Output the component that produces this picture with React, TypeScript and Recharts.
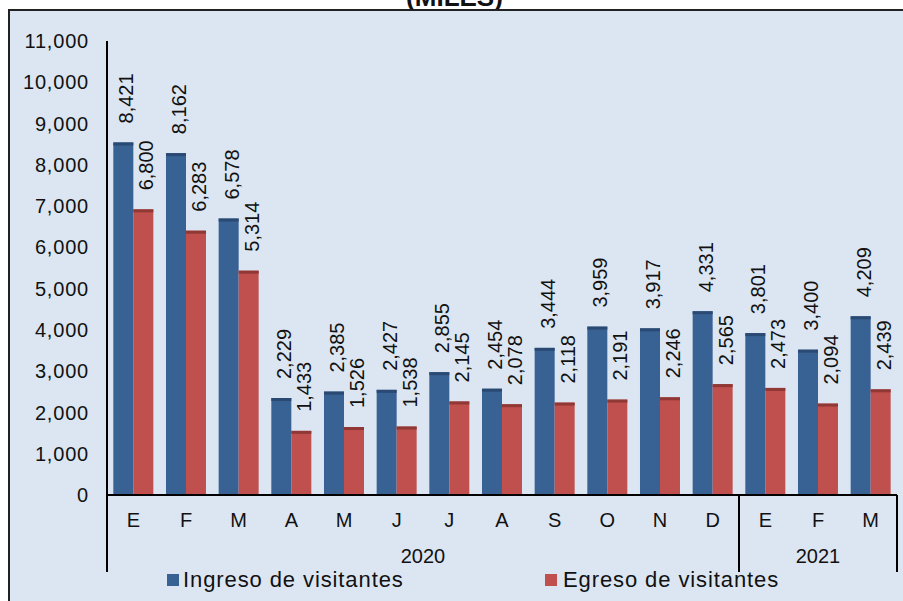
import { Bar, BarChart, LabelList, XAxis, YAxis } from "recharts";

// ---------------------------------------------------------------------------
// Data — monthly visitors (thousands), Jan 2020 – Mar 2021
// ---------------------------------------------------------------------------

const MONTHS = ["E", "F", "M", "A", "M", "J", "J", "A", "S", "O", "N", "D", "E", "F", "M"];
const YEARS = ["2020", "2020", "2020", "2020", "2020", "2020", "2020", "2020", "2020", "2020", "2020", "2020", "2021", "2021", "2021"];
const INGRESO = [8421, 8162, 6578, 2229, 2385, 2427, 2855, 2454, 3444, 3959, 3917, 4331, 3801, 3400, 4209];
const EGRESO = [6800, 6283, 5314, 1433, 1526, 1538, 2145, 2078, 2118, 2191, 2246, 2565, 2473, 2094, 2439];
const Y_TICKS = [0, 1000, 2000, 3000, 4000, 5000, 6000, 7000, 8000, 9000, 10000, 11000];

const data = MONTHS.map((m, i) => ({
  key: `${m}-${i}`,
  month: m,
  year: YEARS[i],
  ingreso: INGRESO[i],
  egreso: EGRESO[i],
}));

const FONT = "'Liberation Sans', Arial, sans-serif";
const BLUE = "#386194";
const BLUE_TOP = "#2a4a73";
const RED = "#c0504d";
const RED_TOP = "#8f3835";
const INK = "#111";

const fmt = (v: number) => Number(v).toLocaleString("en-US");

// Bars with a darker lip on top, imitating the old 3D column look
function makeShape(fill: string, top: string) {
  return (props: any) => {
    const { x, y, width, height } = props;
    const lift = 5;
    return (
      <g>
        <rect x={x} y={y - lift} width={width} height={height + lift} fill={fill} />
        <rect x={x} y={y - lift} width={width} height={3} fill={top} />
      </g>
    );
  };
}

// value labels rotated to read bottom-up
function VLabel(props: any) {
  const { x, y, width, value } = props;
  const cx = x + width / 2 + 3;
  const by = y - 24;
  return (
    <text
      x={cx}
      y={by}
      transform={`rotate(-90 ${cx} ${by})`}
      textAnchor="start"
      dominantBaseline="central"
      fontSize={20}
      fontFamily={FONT}
      fill={INK}
    >
      {fmt(value)}
    </text>
  );
}

// month tick + year row + group separators
function MonthTick(props: any) {
  const { x, y, payload, index, width } = props;
  const band = payload?.offset ? payload.offset * 2 : width / MONTHS.length;
  const i = index ?? payload.index;
  const year = YEARS[i];
  const first = i === 0 || YEARS[i - 1] !== year;
  const last = i === YEARS.length - 1;
  const count = YEARS.filter((yy) => yy === year).length;
  const left = x - band / 2;
  return (
    <g>
      <text x={x} y={y + 32} textAnchor="middle" fontSize={20} fontFamily={FONT} fill={INK}>
        {MONTHS[i]}
      </text>
      {first && (
        <>
          <line x1={left} x2={left} y1={y} y2={y + 77} stroke="#000" strokeWidth={2} />
          <text
            x={left + (count * band) / 2}
            y={y + 68}
            textAnchor="middle"
            fontSize={20}
            fontFamily={FONT}
            fill={INK}
          >
            {year}
          </text>
        </>
      )}
      {last && (
        <line x1={x + band / 2} x2={x + band / 2} y1={y} y2={y + 77} stroke="#000" strokeWidth={2} />
      )}
    </g>
  );
}

const legendStyle = {
  position: "absolute" as const,
  top: 567,
  fontSize: 22,
  color: INK,
  letterSpacing: 0.9,
  display: "flex",
  alignItems: "center",
  lineHeight: "26px",
};

export default function App() {
  return (
    <div
      style={{
        position: "absolute",
        left: 0,
        top: 0,
        width: 903,
        height: 601,
        overflow: "hidden",
        background: "#fff",
        fontFamily: FONT,
      }}
    >
      <div
        style={{
          position: "absolute",
          left: 0,
          right: 0,
          top: -16,
          textAlign: "center",
          fontWeight: "bold",
          fontSize: 26,
          lineHeight: "26px",
          color: INK,
          paddingLeft: 6,
        }}
      >
        (MILES)
      </div>
      <div
        style={{
          position: "absolute",
          left: 8,
          top: 9,
          width: 903,
          height: 601,
          background: "#dce6f2",
          borderTop: "2px solid #222",
          borderLeft: "2px solid #222",
        }}
      />
      <div style={{ position: "absolute", left: 0, top: 0 }}>
        <BarChart
          width={903}
          height={601}
          data={data}
          margin={{ top: 41, right: 6, bottom: 26, left: 0 }}
          barCategoryGap="12%"
          barGap={0}
        >
          <YAxis
            width={107}
            domain={[0, 11000]}
            ticks={Y_TICKS}
            interval={0}
            tickFormatter={fmt}
            tickLine={false}
            tickSize={0}
            tickMargin={18}
            axisLine={{ stroke: "#000", strokeWidth: 2 }}
            tick={{ fontSize: 20, fontFamily: FONT, fill: INK, letterSpacing: 0.8 }}
          />
          <XAxis
            dataKey="key"
            height={80}
            interval={0}
            tickLine={false}
            tickSize={0}
            tickMargin={0}
            axisLine={{ stroke: "#000", strokeWidth: 2 }}
            tick={<MonthTick />}
          />
          <Bar dataKey="ingreso" name="Ingreso de visitantes" fill={BLUE} shape={makeShape(BLUE, BLUE_TOP)} isAnimationActive={false}>
            <LabelList dataKey="ingreso" content={VLabel} />
          </Bar>
          <Bar dataKey="egreso" name="Egreso de visitantes" fill={RED} shape={makeShape(RED, RED_TOP)} isAnimationActive={false}>
            <LabelList dataKey="egreso" content={VLabel} />
          </Bar>
        </BarChart>
      </div>
      {/* legend */}
      <div style={{ ...legendStyle, left: 167 }}>
        <span style={{ width: 12, height: 12, background: BLUE, display: "inline-block", marginRight: 4 }} />
        <span>Ingreso de visitantes</span>
      </div>
      <div style={{ ...legendStyle, left: 545 }}>
        <span style={{ width: 12, height: 12, background: RED, display: "inline-block", marginRight: 6 }} />
        <span>Egreso de visitantes</span>
      </div>
    </div>
  );
}
